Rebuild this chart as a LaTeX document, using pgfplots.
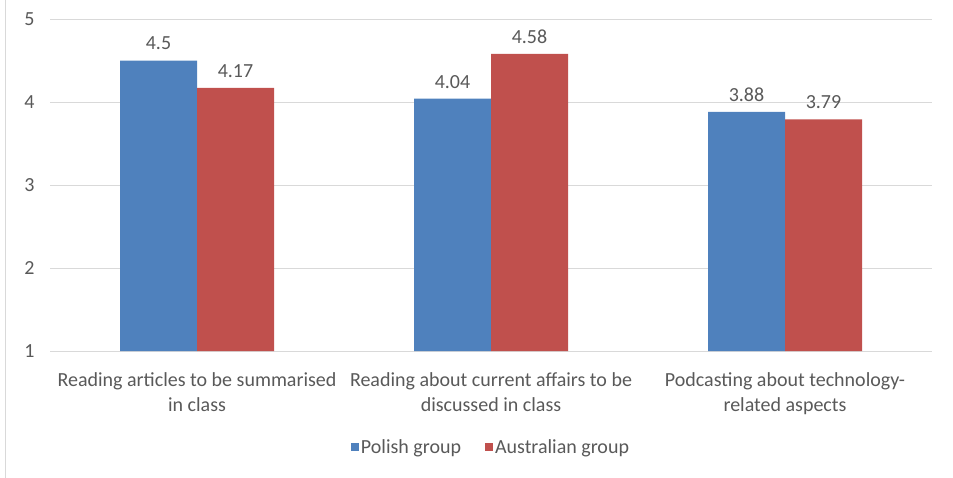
\documentclass[border=0pt]{standalone}
\usepackage{fontspec}
\setmainfont{Carlito}
\usepackage{pgfplots}
\pgfplotsset{compat=1.18}
\definecolor{polblue}{HTML}{4F81BD}
\definecolor{ausred}{HTML}{C0504D}
\definecolor{txtgray}{HTML}{595959}
\definecolor{gridgray}{HTML}{D9D9D9}
\begin{document}
\begin{tikzpicture}
\useasboundingbox (-50bp,-127bp) rectangle (903bp,351bp);
\draw[gridgray, line width=1bp] (-44bp,-127bp) -- (-44bp,351bp);
\begin{axis}[
    scale only axis,
    width=882bp, height=332bp,
    ybar=0pt, bar width=77bp,
    xmin=-0.5, xmax=2.5, ymin=1, ymax=5,
    xtick={0,1,2},
    xticklabels={{Reading articles to be summarised\\in class},
                 {Reading about current affairs to be\\discussed in class},
                 {Podcasting about technology-\\related aspects}},
    ytick={1,2,3,4,5},
    ymajorgrids,
    grid style={gridgray, line width=1bp},
    axis line style={draw=none},
    tick style={draw=none},
    /pgf/number format/assume math mode=true,
    font=\fontsize{20bp}{25bp}\selectfont,
    every tick label/.append style={text=txtgray},
    yticklabel style={xshift=-12bp},
    xticklabel style={align=center, yshift=-14bp},
    nodes near coords,
    every node near coord/.append style={text=txtgray, yshift=7bp},
    legend style={at={(0.5,-0.289)}, anchor=center, draw=none, fill=none,
                  legend columns=2, text=txtgray,
                  /tikz/every even column/.append style={column sep=22bp}},
    legend image code/.code={\fill[#1] (0bp,-4bp) rectangle (8bp,4bp);},
]
\addplot[fill=polblue, draw=none] coordinates {(0,4.5) (1,4.04) (2,3.88)};
\addplot[fill=ausred, draw=none] coordinates {(0,4.17) (1,4.58) (2,3.79)};
\legend{Polish group, Australian group}
\end{axis}
\end{tikzpicture}
\end{document}
